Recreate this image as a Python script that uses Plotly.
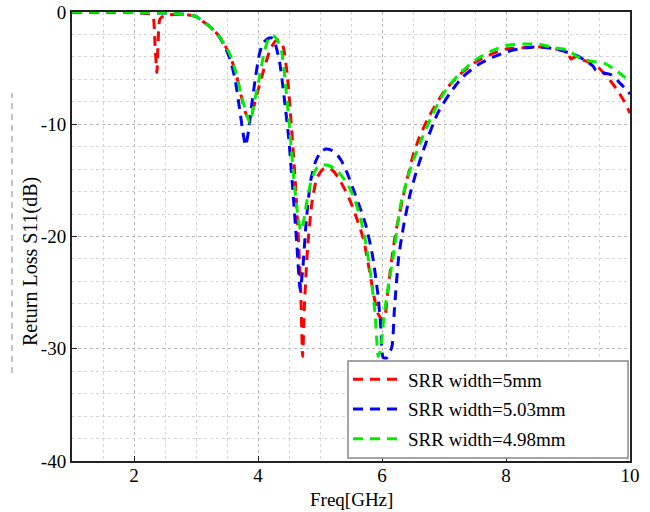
import plotly.graph_objects as go

# ---- data ----
freq_red = [1.0, 1.5, 2.0, 2.28, 2.31, 2.34, 2.37, 2.39, 2.42, 2.5, 2.8, 3.0, 3.1, 3.2, 3.35, 3.45,
            3.55, 3.65, 3.73, 3.8, 3.85, 3.9, 4.0, 4.1, 4.2, 4.28, 4.33, 4.4, 4.47, 4.53, 4.6,
            4.65, 4.69, 4.72, 4.75, 4.8, 4.87, 4.95, 5.05, 5.15, 5.22, 5.3, 5.4, 5.5, 5.6, 5.7,
            5.78, 5.86, 5.93, 6.0, 6.04, 6.08, 6.13, 6.21, 6.3, 6.4, 6.5, 6.6, 6.75, 7.0, 7.25,
            7.5, 7.75, 8.0, 8.25, 8.5, 8.8, 8.98, 9.05, 9.1, 9.2, 9.35, 9.5, 9.68, 9.8, 9.9, 10.0]
s11_red = [0, 0, -0.05, -0.2, -0.4, -3.0, -5.4, -2.5, -0.6, -0.3, -0.2, -0.4, -0.8, -1.2, -2.0,
           -2.8, -3.9, -5.6, -7.5, -9.0, -9.5, -9.0, -7.0, -5.0, -3.3, -2.6, -2.5, -3.0, -5.5,
           -9.5, -15.0, -20.0, -25.0, -30.7, -26.0, -21.0, -17.0, -14.8, -14.0, -13.9, -14.2,
           -14.8, -15.8, -17.0, -18.5, -20.2, -22.5, -25.0, -26.8, -27.4, -27.3, -25.6, -23.2,
           -20.0, -17.5, -15.0, -12.8, -11.2, -9.4, -7.1, -5.6, -4.5, -3.8, -3.3, -3.2, -3.1,
           -3.3, -3.5, -4.2, -4.0, -4.2, -4.5, -5.0, -6.1, -7.0, -7.9, -9.0]

freq_blue = [1.0, 1.5, 2.0, 2.5, 2.8, 3.0, 3.1, 3.2, 3.35, 3.45, 3.55, 3.63, 3.7, 3.76, 3.8,
             3.85, 3.9, 3.96, 4.02, 4.08, 4.15, 4.22, 4.28, 4.35, 4.42, 4.5, 4.57, 4.63, 4.68,
             4.72, 4.78, 4.85, 4.93, 5.02, 5.1, 5.18, 5.26, 5.35, 5.45, 5.55, 5.65, 5.75, 5.85,
             5.93, 5.98, 6.02, 6.08, 6.16, 6.2, 6.27, 6.35, 6.45, 6.55, 6.7, 6.9, 7.1, 7.3, 7.55,
             7.8, 8.1, 8.5, 8.8, 9.15, 9.3, 9.4, 9.45, 9.55, 9.7, 9.85, 10.0]
s11_blue = [0, 0, -0.05, -0.1, -0.2, -0.4, -0.8, -1.2, -2.0, -2.9, -4.2, -6.0, -8.5, -10.8,
            -11.9, -10.5, -8.2, -5.8, -3.8, -2.8, -2.4, -2.3, -2.9, -4.5, -7.5, -11.5, -16.5,
            -21.0, -24.8, -23.0, -18.5, -15.0, -13.3, -12.4, -12.2, -12.3, -12.6, -13.3, -14.5,
            -16.0, -17.5, -19.2, -21.8, -25.0, -28.0, -30.8, -30.8, -29.8, -26.5, -21.8, -19.0,
            -16.3, -14.3, -11.8, -9.0, -7.2, -5.8, -4.7, -4.0, -3.4, -3.1, -3.3, -3.9, -4.4,
            -4.8, -5.2, -5.4, -5.6, -6.4, -7.3]

freq_green = [1.0, 1.5, 2.0, 2.5, 2.8, 3.0, 3.1, 3.2, 3.35, 3.45, 3.55, 3.65, 3.72, 3.8, 3.87,
              3.95, 4.03, 4.1, 4.17, 4.24, 4.3, 4.38, 4.45, 4.52, 4.58, 4.64, 4.69, 4.74, 4.8,
              4.87, 4.95, 5.05, 5.15, 5.25, 5.35, 5.45, 5.55, 5.65, 5.74, 5.82, 5.89, 5.94, 5.98,
              6.03, 6.1, 6.18, 6.3, 6.4, 6.5, 6.65, 6.8, 7.0, 7.25, 7.5, 7.75, 8.0, 8.3, 8.55,
              8.8, 9.0, 9.15, 9.3, 9.5, 9.6, 9.8, 10.0]
s11_green = [0, 0, -0.05, -0.1, -0.2, -0.4, -0.8, -1.2, -2.0, -2.8, -3.8, -5.5, -7.2, -8.8,
             -9.9, -7.8, -5.6, -3.6, -2.4, -2.1, -2.4, -3.5, -6.8, -11.0, -15.0, -18.0, -19.5,
             -18.5, -16.5, -14.8, -13.9, -13.6, -13.7, -14.0, -14.6, -15.4, -16.6, -18.3, -20.6,
             -23.5, -27.0, -30.7, -30.0, -27.2, -24.5, -21.8, -17.2, -15.0, -13.3, -11.2, -9.3,
             -7.2, -5.5, -4.3, -3.5, -3.0, -2.85, -2.9, -3.2, -3.4, -4.0, -4.3, -4.5, -4.6,
             -5.3, -6.2]

series = [
    ("SRR width=5mm", freq_red, s11_red, "#ff0000"),
    ("SRR width=5.03mm", freq_blue, s11_blue, "#0000ff"),
    ("SRR width=4.98mm", freq_green, s11_green, "#00ee00"),
]

x_ticks = [2, 4, 6, 8, 10]
y_ticks = [0, -10, -20, -30, -40]

FONT = "Liberation Serif"

fig = go.Figure()
for i, (name, fx, fy, col) in enumerate(series):
    fig.add_trace(go.Scatter(
        x=fx, y=fy, mode="lines", name=name, legendgroup=f"g{i}",
        line=dict(color=col, width=3, dash="10px,7px", shape="spline", smoothing=0.6),
    ))

L, R, T, B = 72, 20, 12, 51
W, H = 650, 512
pw, ph = W - L - R, H - T - B

def px_x(p):
    return (p - L) / pw

def px_y(p):
    return (H - B - p) / ph

fig.update_layout(
    width=W, height=H,
    margin=dict(l=L, r=R, t=T, b=B, autoexpand=False),
    paper_bgcolor="white", plot_bgcolor="white",
    font=dict(family=FONT, size=19, color="black"),
    showlegend=True,
    legend=dict(
        x=px_x(348), y=px_y(360.5), xanchor="left", yanchor="top",
        borderwidth=0, bgcolor="rgba(0,0,0,0)",
        font=dict(family=FONT, size=19, color="black"),
        itemwidth=50, tracegroupgap=2,
    ),
    xaxis=dict(
        range=[1, 10], tickvals=x_ticks, ticktext=[str(v) for v in x_ticks],
        showline=True, mirror=True, linecolor="#222222", linewidth=2,
        ticks="inside", ticklen=5, tickcolor="#222222",
        showgrid=True, gridcolor="#b8b8b8", griddash="dot", gridwidth=1,
        minor=dict(dtick=0.5, tick0=0, showgrid=True, gridcolor="#d4d4d4", griddash="dot", gridwidth=1),
        zeroline=False, automargin=False, ticklabelstandoff=-4,
        tickfont=dict(family=FONT, size=19),
    ),
    yaxis=dict(
        range=[-40, 0], tickvals=y_ticks, ticktext=[str(v) for v in y_ticks],
        showline=True, mirror=True, linecolor="#222222", linewidth=2,
        ticks="inside", ticklen=5, tickcolor="#222222",
        showgrid=True, gridcolor="#b8b8b8", griddash="dot", gridwidth=1,
        minor=dict(dtick=2, tick0=0, showgrid=True, gridcolor="#d4d4d4", griddash="dot", gridwidth=1),
        zeroline=False, automargin=False,
        tickfont=dict(family=FONT, size=19),
    ),
    annotations=[
        dict(text="Return Loss S11(dB)", textangle=-90, showarrow=False,
             xref="paper", yref="paper", x=px_x(30), y=px_y(262),
             xanchor="center", yanchor="middle", font=dict(family=FONT, size=20)),
        dict(text="Freq[GHz]", showarrow=False,
             xref="paper", yref="paper", x=px_x(351), y=px_y(499),
             xanchor="center", yanchor="middle", font=dict(family=FONT, size=19)),
    ],
    shapes=[
        dict(type="line", xref="paper", yref="paper",
             x0=px_x(12), x1=px_x(12), y0=px_y(373), y1=px_y(93),
             line=dict(color="#888888", width=1, dash="6px,5px")),
        dict(type="rect", xref="paper", yref="paper", layer="above",
             x0=px_x(348), x1=px_x(628), y0=px_y(458), y1=px_y(361),
             fillcolor="white", line=dict(color="#888888", width=1.5)),
    ],
)

fig.write_html(
    "out.html",
    config={"displayModeBar": False},
    post_script="document.body.style.margin='0';document.body.style.overflow='hidden';",
)
